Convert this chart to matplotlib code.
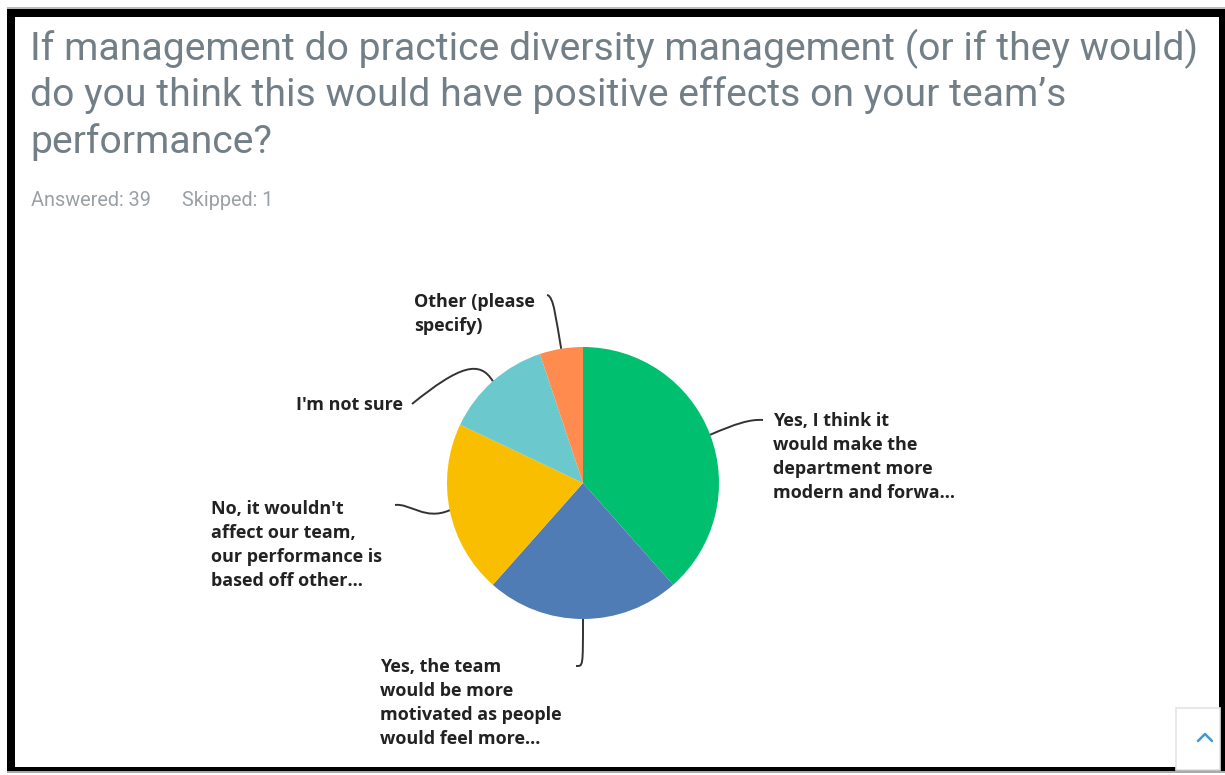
import matplotlib
matplotlib.use("Agg")
import matplotlib.pyplot as plt
from matplotlib.patches import Rectangle, PathPatch
from matplotlib.path import Path
import numpy as np

# Survey question and response counts
question_lines = [
    "If management do practice diversity management (or if they would)",
    "do you think this would have positive effects on your team\u2019s",
    "performance?",
]
answered = 39
skipped = 1

categories = [
    "Yes, I think it\nwould make the\ndepartment more\nmodern and forwa...",
    "Yes, the team\nwould be more\nmotivated as people\nwould feel more...",
    "No, it wouldn't\naffect our team,\nour performance is\nbased off other...",
    "I'm not sure",
    "Other (please\nspecify)",
]
counts = [15, 9, 8, 5, 2]
colors = ["#00BF6F", "#507CB6", "#F9BE00", "#6BC8CD", "#FF8B4F"]

W, H = 1225, 775
fig = plt.figure(figsize=(W / 100, H / 100), dpi=100)
ax = fig.add_axes([0, 0, 1, 1])

# page frame
ax.add_patch(Rectangle((0, 0), W, H, facecolor="white", edgecolor="none", zorder=0))
ax.add_patch(Rectangle((7, 7), 1218, 1.5, facecolor="#bbbbbb", edgecolor="none", zorder=1))
ax.add_patch(Rectangle((7, 9), 1218, 8, facecolor="black", edgecolor="none", zorder=1))
ax.add_patch(Rectangle((7, 9), 8, 763, facecolor="black", edgecolor="none", zorder=1))
ax.add_patch(Rectangle((1219, 9), 6, 763, facecolor="black", edgecolor="none", zorder=1))
ax.add_patch(Rectangle((7, 767), 1218, 4, facecolor="black", edgecolor="none", zorder=1))
ax.add_patch(Rectangle((7, 771), 1218, 2, facecolor="#aaaaaa", edgecolor="none", zorder=1))

# title block
for i, line in enumerate(question_lines):
    ax.text(30, 60 + 46.5 * i, line, fontsize=28.2, fontfamily="Roboto",
            fontweight="normal", color="#737f87", va="baseline", ha="left")
ax.text(31, 206, f"Answered: {answered}", fontsize=14.3, fontfamily="Roboto",
        color="#9aa0a4", va="baseline", ha="left")
ax.text(182, 206, f"Skipped: {skipped}", fontsize=14.3, fontfamily="Roboto",
        color="#9aa0a4", va="baseline", ha="left")

# pie (y axis points down, so counterclockwise in data is clockwise on screen)
cx, cy, R = 583, 483, 136
wedges, _ = ax.pie(counts, colors=colors, startangle=-90, counterclock=True,
                   center=(cx, cy), radius=R, frame=True,
                   wedgeprops=dict(linewidth=0, edgecolor="none"))
ax.set_xlim(0, W)
ax.set_ylim(H, 0)
ax.axis("off")

# leader lines: start on the rim at each wedge's mid angle
ends = [
    [(735, 424), (750, 419), (763, 420)],
    [(583, 668), (583, 666), (576, 666)],
    [(425, 521), (410, 503), (395, 505)],
    [(480, 360), (460, 365), (412, 404)],
    [(556, 320), (554, 296), (547, 295)],
]
label_pos = [
    (773, 412, "left"),
    (380, 658, "left"),
    (211, 500, "left"),
    (403, 396, "right"),
    (414, 293, "left"),
]
for w, pts, (lx, ly, ha), lab in zip(wedges, ends, label_pos, categories):
    mid = np.deg2rad((w.theta1 + w.theta2) / 2)
    sx, sy = cx + R * np.cos(mid), cy + R * np.sin(mid)
    verts = [(sx, sy)] + pts
    path = Path(verts, [Path.MOVETO, Path.CURVE4, Path.CURVE4, Path.CURVE4])
    ax.add_patch(PathPatch(path, facecolor="none", edgecolor="#333333", lw=1.4, zorder=3))
    ax.text(lx, ly, lab, fontsize=13, fontfamily="Open Sans", fontweight="bold",
            color="#222222", ha=ha, va="top", linespacing=1.42)

# scroll-to-top button
ax.add_patch(Rectangle((1176, 708), 44, 62, facecolor="white", edgecolor="#e4e4e4",
                       lw=1.2, zorder=2))
ax.plot([1198, 1205, 1212], [741, 734, 741], color="#3d9bd1", lw=1.8,
        solid_capstyle="round", zorder=3)

fig.savefig("out.png", dpi=100)
